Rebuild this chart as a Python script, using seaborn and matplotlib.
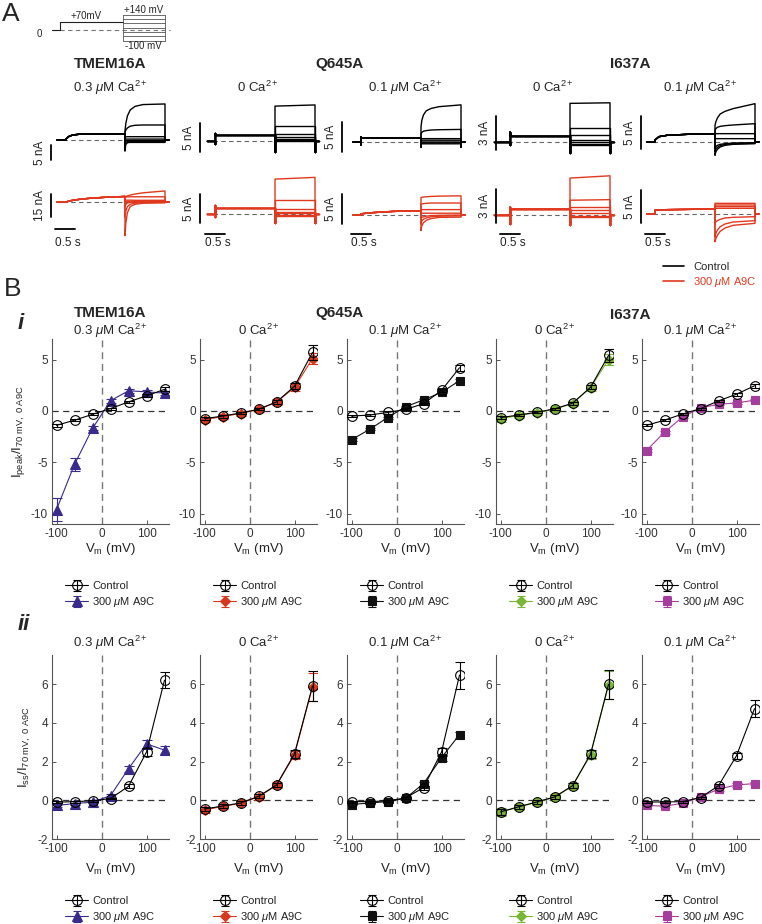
import numpy as np
import pandas as pd
import matplotlib
matplotlib.use("Agg")
import matplotlib.pyplot as plt
from matplotlib.lines import Line2D
from matplotlib.transforms import blended_transform_factory
import seaborn as sns

# ======================= DATA: panel B (I-V curves) =======================
VM = [-100, -60, -20, 20, 60, 100, 140]

PK_TMEM_CTRL = [-1.4, -0.9, -0.33, 0.23, 0.88, 1.47, 2.1]
PK_TMEM_A9C = [-9.6, -5.2, -1.7, 1.0, 1.96, 1.86, 1.73]
PK_Q0_CTRL = [-0.75, -0.5, -0.2, 0.16, 0.88, 2.4, 5.7]
PK_Q0_A9C = [-0.85, -0.55, -0.25, 0.16, 0.85, 2.3, 5.1]
PK_Q01_CTRL = [-0.5, -0.4, -0.15, 0.15, 0.7, 2.0, 4.2]
PK_Q01_A9C = [-2.8, -1.8, -0.65, 0.4, 1.08, 1.8, 2.95]
PK_I0_CTRL = [-0.65, -0.4, -0.13, 0.2, 0.75, 2.3, 5.4]
PK_I0_A9C = [-0.75, -0.45, -0.17, 0.17, 0.72, 2.25, 5.0]
PK_I01_CTRL = [-1.4, -0.9, -0.3, 0.23, 0.98, 1.63, 2.45]
PK_I01_A9C = [-3.85, -2.06, -0.6, 0.3, 0.65, 0.78, 1.05]

PK_TMEM_CTRL_ERR = [0.15, 0.1, 0.1, 0.1, 0.1, 0.15, 0.2]
PK_TMEM_A9C_ERR = [1.1, 0.6, 0.2, 0.2, 0.2, 0.2, 0.2]
PK_Q0_CTRL_ERR = [0.15, 0.15, 0.1, 0.1, 0.2, 0.3, 0.7]
PK_Q0_A9C_ERR = [0.25, 0.25, 0.2, 0.25, 0.3, 0.35, 0.55]
PK_Q01_CTRL_ERR = [0.1, 0.1, 0.1, 0.1, 0.1, 0.15, 0.3]
PK_Q01_A9C_ERR = [0.15, 0.1, 0.1, 0.1, 0.1, 0.1, 0.15]
PK_I0_CTRL_ERR = [0.15, 0.1, 0.1, 0.1, 0.15, 0.2, 0.6]
PK_I0_A9C_ERR = [0.3, 0.25, 0.25, 0.25, 0.25, 0.3, 0.5]
PK_I01_CTRL_ERR = [0.1, 0.1, 0.1, 0.1, 0.1, 0.15, 0.2]
PK_I01_A9C_ERR = [0.15, 0.15, 0.1, 0.1, 0.1, 0.1, 0.1]

SS_TMEM_CTRL = [-0.1, -0.07, -0.03, 0.09, 0.72, 2.49, 6.2]
SS_TMEM_A9C = [-0.27, -0.17, -0.1, 0.24, 1.63, 2.91, 2.59]
SS_Q0_CTRL = [-0.45, -0.3, -0.14, 0.2, 0.79, 2.4, 5.9]
SS_Q0_A9C = [-0.5, -0.32, -0.15, 0.18, 0.77, 2.35, 5.85]
SS_Q01_CTRL = [-0.07, -0.07, -0.03, 0.12, 0.65, 2.49, 6.46]
SS_Q01_A9C = [-0.22, -0.14, -0.07, 0.1, 0.86, 2.2, 3.39]
SS_I0_CTRL = [-0.6, -0.34, -0.09, 0.17, 0.75, 2.37, 5.98]
SS_I0_A9C = [-0.62, -0.36, -0.1, 0.15, 0.73, 2.35, 5.95]
SS_I01_CTRL = [-0.09, -0.09, -0.07, 0.14, 0.75, 2.3, 4.73]
SS_I01_A9C = [-0.26, -0.31, -0.15, 0.17, 0.58, 0.79, 0.86]

SS_TMEM_CTRL_ERR = [0.05, 0.05, 0.05, 0.05, 0.1, 0.2, 0.4]
SS_TMEM_A9C_ERR = [0.08, 0.05, 0.05, 0.1, 0.15, 0.2, 0.2]
SS_Q0_CTRL_ERR = [0.1, 0.1, 0.08, 0.1, 0.12, 0.2, 0.75]
SS_Q0_A9C_ERR = [0.15, 0.15, 0.12, 0.15, 0.15, 0.2, 0.7]
SS_Q01_CTRL_ERR = [0.05, 0.05, 0.05, 0.05, 0.1, 0.2, 0.7]
SS_Q01_A9C_ERR = [0.05, 0.05, 0.05, 0.05, 0.1, 0.15, 0.15]
SS_I0_CTRL_ERR = [0.15, 0.1, 0.1, 0.1, 0.12, 0.2, 0.75]
SS_I0_A9C_ERR = [0.2, 0.15, 0.12, 0.15, 0.15, 0.2, 0.7]
SS_I01_CTRL_ERR = [0.05, 0.05, 0.05, 0.05, 0.1, 0.15, 0.45]
SS_I01_A9C_ERR = [0.05, 0.05, 0.05, 0.05, 0.08, 0.08, 0.08]

CA_LABELS = [r"0.3 $\mu$M Ca$^{2+}$", r"0 Ca$^{2+}$", r"0.1 $\mu$M Ca$^{2+}$",
             r"0 Ca$^{2+}$", r"0.1 $\mu$M Ca$^{2+}$"]
CONSTRUCTS = ["TMEM16A", "Q645A", "I637A"]
LEGEND_LABELS = ["Control", r"300 $\mu$M A9C"]
DRUG_COLORS = ["#3a2a8c", "#d8391e", "#111111", "#7ab636", "#a53d9e"]
DRUG_MARKERS = ["^", "D", "s", "D", "s"]
DRUG_MSIZE = [7, 5.5, 6, 5.5, 6]

# ======================= DATA: panel A (current traces, nA vs s) =======================
TEST_T = [1.7, 1.72, 1.76, 1.83, 1.95, 2.15, 2.7]
FLAT_T = [1.7, 2.7]
TRACE_END = 2.8

# TMEM16A 0.3 uM Ca
A1C_PRE_T = [0.0, 0.22, 0.22, 0.3, 0.4, 0.55, 0.8, 1.7]
A1C_PRE_I = [0.0, 0.0, 0.3, 1.2, 1.7, 1.9, 2.0, 2.0]
A1C_TEST = [[-3.5, -1.5, -0.9, -0.8, -0.8, -0.8, -0.8],
            [-2.0, -0.8, -0.5, -0.5, -0.5, -0.5, -0.5],
            [-0.8, -0.3, -0.2, -0.2, -0.2, -0.2, -0.2],
            [0.2, 0.3, 0.3, 0.3, 0.3, 0.3, 0.3],
            [0.8, 1.0, 1.1, 1.1, 1.1, 1.1, 1.1],
            [2.5, 3.3, 4.0, 4.6, 4.9, 5.0, 5.0],
            [3.0, 5.5, 8.0, 10.0, 11.2, 11.8, 12.0]]
A1R_PRE_T = [0.0, 0.22, 0.35, 0.6, 0.9, 1.3, 1.7]
A1R_PRE_I = [0.0, 0.0, 0.9, 1.9, 2.6, 3.2, 3.6]
A1R_TEST = [[-22.0, -14.0, -7.0, -3.0, -1.5, -0.8, -0.5],
            [-10.0, -6.0, -3.0, -1.5, -0.8, -0.4, -0.3],
            [-3.0, -1.5, -0.6, -0.3, -0.1, 0.0, 0.0],
            [0.3, 0.3, 0.3, 0.3, 0.3, 0.3, 0.3],
            [1.2, 1.2, 1.2, 1.2, 1.1, 1.1, 1.1],
            [3.3, 3.3, 3.3, 3.4, 3.4, 3.4, 3.4],
            [3.3, 3.6, 4.0, 4.5, 5.2, 6.0, 7.2]]
# Q645A 0 Ca
A2C_PRE_T = [0.0, 0.2, 0.2, 0.2, 0.2, 1.7]
A2C_PRE_I = [0.0, 0.0, -0.6, 1.3, 1.0, 1.0]
A2C_TEST = [[0.05, 0.05], [0.2, 0.2], [0.4, 0.4], [0.7, 0.7], [1.15, 1.15], [2.5, 2.5], [6.0, 6.2]]
A2R_PRE_T = [0.0, 0.2, 0.2, 0.2, 0.2, 1.7]
A2R_PRE_I = [0.0, 0.0, 1.5, -0.5, 1.0, 1.0]
A2R_TEST = [[-0.35, -0.35], [-0.2, -0.2], [0.1, 0.1], [0.4, 0.4], [0.8, 0.8], [2.45, 2.45], [6.0, 6.3]]
# Q645A 0.1 uM Ca
A3C_PRE_T = [0.0, 0.2, 0.2, 0.2, 0.2, 1.7]
A3C_PRE_I = [0.0, 0.0, -0.5, 0.9, 0.7, 0.72]
A3C_TEST = [[-0.3] * 7, [-0.15] * 7, [0.0] * 7, [0.3] * 7, [0.56] * 7,
            [1.4, 1.6, 1.8, 1.9, 2.0, 2.05, 2.1],
            [2.5, 3.6, 4.5, 5.2, 5.6, 5.9, 6.2]]
A3R_PRE_T = [0.0, 0.2, 0.2, 0.5, 1.0, 1.7]
A3R_PRE_I = [0.0, 0.0, 0.2, 0.4, 0.6, 0.72]
A3R_TEST = [[-2.6, -1.8, -1.3, -0.9, -0.6, -0.4, -0.35],
            [-1.5, -1.0, -0.7, -0.5, -0.3, -0.2, -0.15],
            [-0.6, -0.4, -0.3, -0.2, -0.1, -0.05, 0.0],
            [0.3] * 7, [0.9] * 7,
            [1.8, 1.85, 1.9, 1.95, 2.0, 2.0, 2.0],
            [2.9, 2.95, 3.0, 3.05, 3.1, 3.15, 3.2]]
# I637A 0 Ca
A4C_PRE_T = [-0.2, 0.2, 0.2, 0.2, 0.2, 1.7]
A4C_PRE_I = [0.0, 0.0, -0.3, 0.9, 0.53, 0.53]
A4C_TEST = [[-0.3, -0.3], [-0.15, -0.15], [0.0, 0.0], [0.2, 0.2], [0.6, 0.6], [1.26, 1.26], [3.4, 3.45]]
A4R_PRE_T = [-0.2, 0.2, 0.2, 0.2, 0.2, 1.7]
A4R_PRE_I = [0.0, 0.0, 0.7, -0.8, 0.53, 0.53]
A4R_TEST = [[-0.2, -0.2], [-0.1, -0.1], [0.15, 0.15], [0.4, 0.4], [0.7, 0.7], [1.3, 1.35], [3.25, 3.45]]
# I637A 0.1 uM Ca
A5C_PRE_T = [0.0, 0.2, 0.2, 0.3, 0.5, 1.0, 1.7]
A5C_PRE_I = [0.0, 0.0, 0.3, 0.8, 1.0, 1.15, 1.25]
A5C_TEST = [[-2.0, -1.5, -1.1, -0.75, -0.5, -0.35, -0.25],
            [-1.5, -1.1, -0.8, -0.55, -0.35, -0.25, -0.2],
            [-1.0, -0.7, -0.5, -0.35, -0.25, -0.15, -0.1],
            [0.5] * 7, [1.25] * 7,
            [1.8, 2.0, 2.2, 2.35, 2.45, 2.55, 2.75],
            [2.5, 3.0, 3.6, 4.2, 4.6, 5.0, 5.75]]
A5R_PRE_T = [0.0, 0.2, 0.2, 0.5, 1.7]
A5R_PRE_I = [0.0, 0.0, 0.6, 0.65, 0.75]
A5R_TEST = [[-4.15, -3.7, -3.2, -2.6, -2.1, -1.7, -1.4],
            [-3.4, -2.9, -2.4, -1.9, -1.5, -1.2, -1.0],
            [-1.4, -1.2, -1.0, -0.8, -0.6, -0.5, -0.4],
            [0.85] * 7, [1.1] * 7, [1.35] * 7, [1.6] * 7]

# capacitive spike levels at test start / end (nA), per column [ctrl, drug]
SPIKE_ON = [[-3.5, None], [-1.9, -1.6], [-0.8, None], [-1.0, -0.9], [None, None]]
SPIKE_OFF = [[None, None], [-1.9, -1.6], [-0.8, None], [-1.0, -0.9], [None, None]]
SCALE_NA = [[5, 15], [5, 5], [5, 5], [3, 3], [5, 5]]

# voltage protocol
PROT_T = [-0.075, 0.125, 1.7, 2.75, 2.875]
PROT_PRE = 70

# ======================= STYLE =======================
sns.set_theme(style="white")
plt.rcParams["font.family"] = ["Liberation Sans", "DejaVu Sans"]
plt.rcParams["mathtext.fontset"] = "custom"
plt.rcParams["mathtext.rm"] = "Liberation Sans"
plt.rcParams["mathtext.it"] = "Liberation Sans:italic"
plt.rcParams["mathtext.bf"] = "Liberation Sans:bold"
plt.rcParams["axes.unicode_minus"] = False

RED = "#e0391f"
W, H = 762, 924
fig = plt.figure(figsize=(W / 100, H / 100), dpi=100)


def px_axes(left, top, width, height):
    return fig.add_axes([left / W, 1 - (top + height) / H, width / W, height / H])


def ftext(x, y, s, **kw):
    fig.text(x / W, 1 - y / H, s, **kw)


# ======================= PANEL A =======================
ftext(11, 14, "A", fontsize=19, ha="center", va="center")

# voltage protocol
pax = px_axes(43, 5, 140, 45)
pax.set_xlim(-0.3, 3.2)
pax.set_ylim(-185, 231)
pax.axis("off")
pax.plot([PROT_T[0], PROT_T[4]], [0, 0], color="#777777", lw=0.8, ls=(0, (4, 3)))
sns.lineplot(x=[PROT_T[0], PROT_T[1], PROT_T[1], PROT_T[2]], y=[0, 0, PROT_PRE, PROT_PRE],
             sort=False, estimator=None, color="#222222", lw=0.8, ax=pax)
for v in VM:
    sns.lineplot(x=[PROT_T[2], PROT_T[3]], y=[v, v], sort=False, estimator=None,
                 color="#555555", lw=0.6, ax=pax)
for tt in (PROT_T[2], PROT_T[3]):
    pax.plot([tt, tt], [VM[0], VM[-1]], color="#555555", lw=0.6)
ftext(86, 16, "+70mV", fontsize=7, ha="center", va="center")
ftext(144, 10, "+140 mV", fontsize=7, ha="center", va="center")
ftext(143, 46, "-100 mV", fontsize=7, ha="center", va="center")
ftext(39, 34, "0", fontsize=7, ha="center", va="center")

# titles in A
ftext(110, 68, "TMEM16A", fontsize=11, fontweight="bold", ha="center", va="baseline")
ftext(339, 68, "Q645A", fontsize=11, fontweight="bold", ha="center", va="baseline")
ftext(630, 68, "I637A", fontsize=11, fontweight="bold", ha="center", va="baseline")
for cx, lab in zip([110, 258, 405, 553, 700], CA_LABELS):
    ftext(cx, 92, lab, fontsize=9.5, ha="center", va="baseline")

T0_PX = [57, 207, 353, 502, 647]
BASE_PX = [[140, 202], [141, 214], [142, 215], [142, 215], [142, 214]]
NA_PER_PX = [[0.333, 0.652], [0.172, 0.172], [0.167, 0.167], [0.088, 0.088], [0.15, 0.15]]
BAR_T = [-0.15, -0.175, -0.275, -0.15, -0.15]
BAR_BOTTOM = [[-6.67, -9.8], [-1.9, -1.55], [-1.7, -1.5], [-0.7, -0.7], [-1.05, -1.35]]
ROW_TOP = [92, 168]
ROW_H = [72, 82]

TRACES = [
    [(A1C_PRE_T, A1C_PRE_I, TEST_T, A1C_TEST), (A1R_PRE_T, A1R_PRE_I, TEST_T, A1R_TEST)],
    [(A2C_PRE_T, A2C_PRE_I, FLAT_T, A2C_TEST), (A2R_PRE_T, A2R_PRE_I, FLAT_T, A2R_TEST)],
    [(A3C_PRE_T, A3C_PRE_I, TEST_T, A3C_TEST), (A3R_PRE_T, A3R_PRE_I, TEST_T, A3R_TEST)],
    [(A4C_PRE_T, A4C_PRE_I, FLAT_T, A4C_TEST), (A4R_PRE_T, A4R_PRE_I, FLAT_T, A4R_TEST)],
    [(A5C_PRE_T, A5C_PRE_I, TEST_T, A5C_TEST), (A5R_PRE_T, A5R_PRE_I, TEST_T, A5R_TEST)],
]


def build(pre_t, pre_i, test_t, test_i, spk_on, spk_off):
    t = list(pre_t)
    y = list(pre_i)
    if spk_on is not None:
        t.append(test_t[0]); y.append(spk_on)
    t += list(test_t); y += list(test_i)
    if spk_off is not None:
        t.append(test_t[-1]); y.append(spk_off)
    t += [test_t[-1], TRACE_END]; y += [0.0, 0.0]
    return t, y


for c in range(5):
    for r in range(2):
        top, hgt = ROW_TOP[r], ROW_H[r]
        ax = px_axes(T0_PX[c] - 24, top, 140, hgt)
        s = NA_PER_PX[c][r]
        base = BASE_PX[c][r]
        ax.set_xlim(-0.6, 2.9)
        ax.set_ylim((base - (top + hgt)) * s, (base - top) * s)
        ax.axis("off")
        col = "black" if r == 0 else RED
        ax.plot([0.15, 2.85], [0, 0], color="#666666", lw=0.8, ls=(0, (4, 3)), zorder=1)
        pre_t, pre_i, test_t, tests = TRACES[c][r]
        for ti in tests:
            tt, yy = build(pre_t, pre_i, test_t, ti, SPIKE_ON[c][r], SPIKE_OFF[c][r])
            sns.lineplot(x=tt, y=yy, sort=False, estimator=None, color=col, lw=1.0,
                         ax=ax, zorder=2)
        # vertical scale bar
        b0 = BAR_BOTTOM[c][r]
        b1 = b0 + SCALE_NA[c][r]
        ax.plot([BAR_T[c], BAR_T[c]], [b0, b1], color="black", lw=1.3, clip_on=False)
        ax.text(BAR_T[c] - 0.12, (b0 + b1) / 2, f"{SCALE_NA[c][r]} nA", rotation=90,
                ha="right", va="center", fontsize=8.5, color="#222222")
        if r == 1:
            tr = blended_transform_factory(ax.transData, ax.transAxes)
            yb = (top + hgt - (229 if c == 0 else 234)) / hgt
            ax.plot([-0.05, 0.45], [yb, yb], color="black", lw=1.3, transform=tr, clip_on=False)
            ax.text(-0.05, (top + hgt - 243) / hgt, "0.5 s", transform=tr, ha="left",
                    va="center", fontsize=8.5, color="#222222")

leg = fig.legend(handles=[Line2D([], [], color="black", lw=1.2), Line2D([], [], color=RED, lw=1.2)],
                 labels=LEGEND_LABELS, loc="upper left", bbox_to_anchor=(663 / W, 1 - 262 / H),
                 frameon=False, fontsize=8, handlelength=1.9, handletextpad=0.8, borderpad=0,
                 borderaxespad=0, labelspacing=0.3)
leg.get_texts()[1].set_color(RED)

# ======================= PANEL B =======================
ftext(13, 289, "B", fontsize=19, ha="center", va="center")
ftext(21, 323, "i", fontsize=16, fontweight="bold", fontstyle="italic", ha="center", va="center")
ftext(24, 625, "ii", fontsize=16, fontweight="bold", fontstyle="italic", ha="center", va="center")
ftext(110, 317, "TMEM16A", fontsize=11, fontweight="bold", ha="center", va="baseline")
ftext(339, 317, "Q645A", fontsize=11, fontweight="bold", ha="center", va="baseline")
ftext(630, 319, "I637A", fontsize=11, fontweight="bold", ha="center", va="baseline")

B_LEFT = [52, 200, 347, 496, 642]
ROWS = [
    dict(top=339, h=185, ylim=(-11, 7), yticks=[-10, -5, 0, 5], sub_base=335,
         ctrl=[PK_TMEM_CTRL, PK_Q0_CTRL, PK_Q01_CTRL, PK_I0_CTRL, PK_I01_CTRL],
         ctrl_err=[PK_TMEM_CTRL_ERR, PK_Q0_CTRL_ERR, PK_Q01_CTRL_ERR, PK_I0_CTRL_ERR, PK_I01_CTRL_ERR],
         drug=[PK_TMEM_A9C, PK_Q0_A9C, PK_Q01_A9C, PK_I0_A9C, PK_I01_A9C],
         drug_err=[PK_TMEM_A9C_ERR, PK_Q0_A9C_ERR, PK_Q01_A9C_ERR, PK_I0_A9C_ERR, PK_I01_A9C_ERR],
         ylabel=r"I$_\mathrm{peak}$/I$_\mathrm{70\ mV,\ 0\ A9C}$", ylab_right=27, xlab_top=541,
         leg_y=595),
    dict(top=655, h=184, ylim=(-2, 7.5), yticks=[-2, 0, 2, 4, 6], sub_base=647,
         ctrl=[SS_TMEM_CTRL, SS_Q0_CTRL, SS_Q01_CTRL, SS_I0_CTRL, SS_I01_CTRL],
         ctrl_err=[SS_TMEM_CTRL_ERR, SS_Q0_CTRL_ERR, SS_Q01_CTRL_ERR, SS_I0_CTRL_ERR, SS_I01_CTRL_ERR],
         drug=[SS_TMEM_A9C, SS_Q0_A9C, SS_Q01_A9C, SS_I0_A9C, SS_I01_A9C],
         drug_err=[SS_TMEM_A9C_ERR, SS_Q0_A9C_ERR, SS_Q01_A9C_ERR, SS_I0_A9C_ERR, SS_I01_A9C_ERR],
         ylabel=r"I$_\mathrm{ss}$/I$_\mathrm{70\ mV,\ 0\ A9C}$", ylab_right=33, xlab_top=861,
         leg_y=910),
]

AXW = 117
for row in ROWS:
    for k in range(5):
        ax = px_axes(B_LEFT[k], row["top"], AXW, row["h"])
        col = DRUG_COLORS[k]
        ax.axhline(0, color="#333333", lw=0.9, ls=(0, (5, 3.5)), zorder=1)
        ax.axvline(0, color="#777777", lw=1.0, ls=(0, (5, 3.5)), zorder=1)
        dfd = pd.DataFrame({"Vm": VM, "I": row["drug"][k]})
        dfc = pd.DataFrame({"Vm": VM, "I": row["ctrl"][k]})
        ax.errorbar(VM, row["drug"][k], yerr=row["drug_err"][k], fmt="none", ecolor=col,
                    elinewidth=0.8, capsize=3.5, capthick=0.8, zorder=2)
        sns.lineplot(data=dfd, x="Vm", y="I", ax=ax, color=col, lw=0.8,
                     marker=DRUG_MARKERS[k], markersize=DRUG_MSIZE[k],
                     markerfacecolor=col, markeredgecolor=col, markeredgewidth=0.8, zorder=3)
        ax.errorbar(VM, row["ctrl"][k], yerr=row["ctrl_err"][k], fmt="none", ecolor="black",
                    elinewidth=0.8, capsize=3.5, capthick=0.8, zorder=4)
        sns.lineplot(data=dfc, x="Vm", y="I", ax=ax, color="black", lw=0.8, marker="o",
                     markersize=7, markerfacecolor="none", markeredgecolor="black",
                     markeredgewidth=0.8, zorder=5)
        ax.set_xlim(-110, 150)
        ax.set_ylim(*row["ylim"])
        ax.set_xticks([-100, 0, 100])
        ax.set_yticks(row["yticks"])
        for sp in ("top", "right"):
            ax.spines[sp].set_visible(False)
        for sp in ("left", "bottom"):
            ax.spines[sp].set_color("#555555")
            ax.spines[sp].set_linewidth(0.8)
        ax.tick_params(direction="in", length=3, width=0.7, colors="#555555",
                       labelcolor="#333333", labelsize=8.5, pad=3, left=True, bottom=True)
        ax.set_xlabel(r"V$_\mathrm{m}$ (mV)", fontsize=9.5, color="#222222")
        ax.xaxis.set_label_coords(0.5, -(row["xlab_top"] - row["top"] - row["h"]) / row["h"])
        if k == 0:
            ax.set_ylabel(row["ylabel"], fontsize=9.5, color="#222222")
            ax.yaxis.set_label_coords(-(B_LEFT[0] - row["ylab_right"]) / AXW, 0.5)
        else:
            ax.set_ylabel("")
        ax.text(0.5, (row["sub_base"] - row["top"]) / -row["h"] + 1.0, CA_LABELS[k],
                transform=ax.transAxes, ha="center", va="baseline", fontsize=9.5)
        # legend
        hc = ax.errorbar([np.nan], [np.nan], yerr=[np.nan], fmt="-o", color="black", lw=0.8,
                         ms=7, mfc="none", mec="black", mew=0.8, capsize=3, elinewidth=0.8)
        hd = ax.errorbar([np.nan], [np.nan], yerr=[np.nan], fmt="-" + DRUG_MARKERS[k], color=col,
                         lw=0.8, ms=DRUG_MSIZE[k], mfc=col, mec=col, mew=0.8, capsize=3,
                         elinewidth=0.8)
        lg = ax.legend(handles=[hc, hd], labels=LEGEND_LABELS, loc="center",
                       bbox_to_anchor=(0.5, -(row["leg_y"] - row["top"] - row["h"]) / row["h"]),
                       frameon=False, fontsize=8, handlelength=2.0, handletextpad=0.4,
                       labelspacing=0.35, borderpad=0)
        for t in lg.get_texts():
            t.set_color("#222222")

fig.savefig("out.png", dpi=100)
